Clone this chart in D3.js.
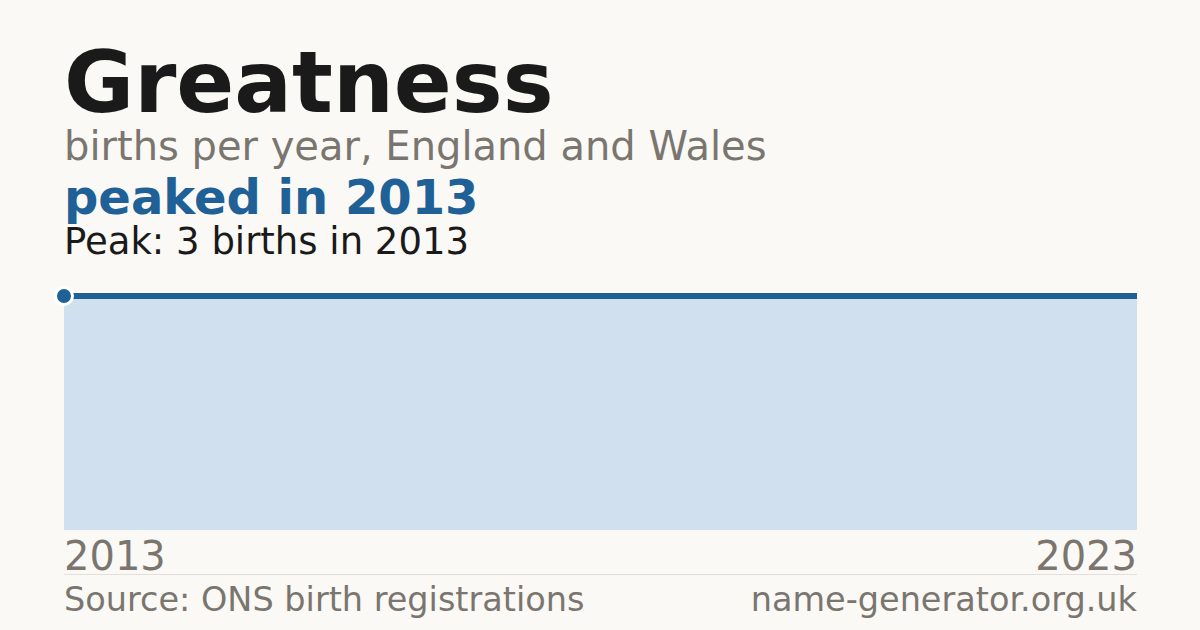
<!DOCTYPE html>
<html>
<head>
<meta charset="utf-8">
<script src="https://cdn.jsdelivr.net/npm/d3@7"></script>
<style>
  html, body { margin: 0; padding: 0; background: #faf9f5; }
  svg { display: block; font-family: "DejaVu Sans", sans-serif; }
</style>
</head>
<body>
<svg id="chart" width="1200" height="630"></svg>
<script>
'use strict';

// births per year for the name
var years = [2013, 2014, 2015, 2016, 2017, 2018, 2019, 2020, 2021, 2022, 2023];
var births = [3, 3, 3, 3, 3, 3, 3, 3, 3, 3, 3];
var tickYears = [2013, 2023];

var babyName = 'Greatness';
var subtitle = 'births per year, England and Wales';
var source = 'Source: ONS birth registrations';
var site = 'name-generator.org.uk';

(function() {
    var left = 64, right = 1137;
    var plotTop = 296, plotBottom = 530;

    var data = years.map(function(yr, i) {
        return { year: yr, value: births[i] };
    });

    var peak = data.reduce(function(a, b) { return b.value > a.value ? b : a; });

    var svg = d3.select('#chart');

    var x = d3.scaleLinear()
        .domain(d3.extent(years))
        .range([left, right]);

    var y = d3.scaleLinear()
        .domain([0, d3.max(births)])
        .range([plotBottom, plotTop]);

    svg.append('text')
        .attr('x', left).attr('y', 112)
        .attr('font-size', 85.5).attr('font-weight', 'bold')
        .attr('fill', '#1a1a1a')
        .text(babyName);

    svg.append('text')
        .attr('x', left).attr('y', 160)
        .attr('font-size', 40)
        .attr('fill', '#7a766f')
        .text(subtitle);

    svg.append('text')
        .attr('x', left).attr('y', 214)
        .attr('font-size', 48).attr('font-weight', 'bold')
        .attr('fill', '#1f6096')
        .text('peaked in ' + peak.year);

    svg.append('text')
        .attr('x', left).attr('y', 254)
        .attr('font-size', 37)
        .attr('fill', '#1a1a1a')
        .text('Peak: ' + peak.value + ' births in ' + peak.year);

    var area = d3.area()
        .x(function(d) { return x(d.year); })
        .y0(y(0))
        .y1(function(d) { return y(d.value); });

    var line = d3.line()
        .x(function(d) { return x(d.year); })
        .y(function(d) { return y(d.value); });

    svg.append('path')
        .datum(data)
        .attr('d', area)
        .attr('fill', '#d0e0ef');

    svg.append('path')
        .datum(data)
        .attr('d', line)
        .attr('fill', 'none')
        .attr('stroke', '#1f6096')
        .attr('stroke-width', 6);

    svg.append('circle')
        .attr('cx', x(peak.year))
        .attr('cy', y(peak.value))
        .attr('r', 8.5)
        .attr('fill', '#1f6096')
        .attr('stroke', '#ffffff')
        .attr('stroke-width', 3);

    // year labels at the ends
    svg.selectAll('text.tick')
        .data(tickYears)
        .enter()
        .append('text')
        .attr('class', 'tick')
        .attr('x', function(d) { return x(d); })
        .attr('y', 570)
        .attr('text-anchor', function(d, i) { return i === 0 ? 'start' : 'end'; })
        .attr('font-size', 40)
        .attr('fill', '#7a766f')
        .text(function(d) { return d; });

    svg.append('line')
        .attr('x1', left).attr('x2', right)
        .attr('y1', 574.5).attr('y2', 574.5)
        .attr('stroke', '#e2dfd8')
        .attr('stroke-width', 1);

    svg.append('text')
        .attr('x', left).attr('y', 611)
        .attr('font-size', 33.5)
        .attr('fill', '#7a766f')
        .text(source);

    svg.append('text')
        .attr('x', right).attr('y', 611)
        .attr('text-anchor', 'end')
        .attr('font-size', 33.5)
        .attr('fill', '#7a766f')
        .text(site);
})();
</script>
</body>
</html>
